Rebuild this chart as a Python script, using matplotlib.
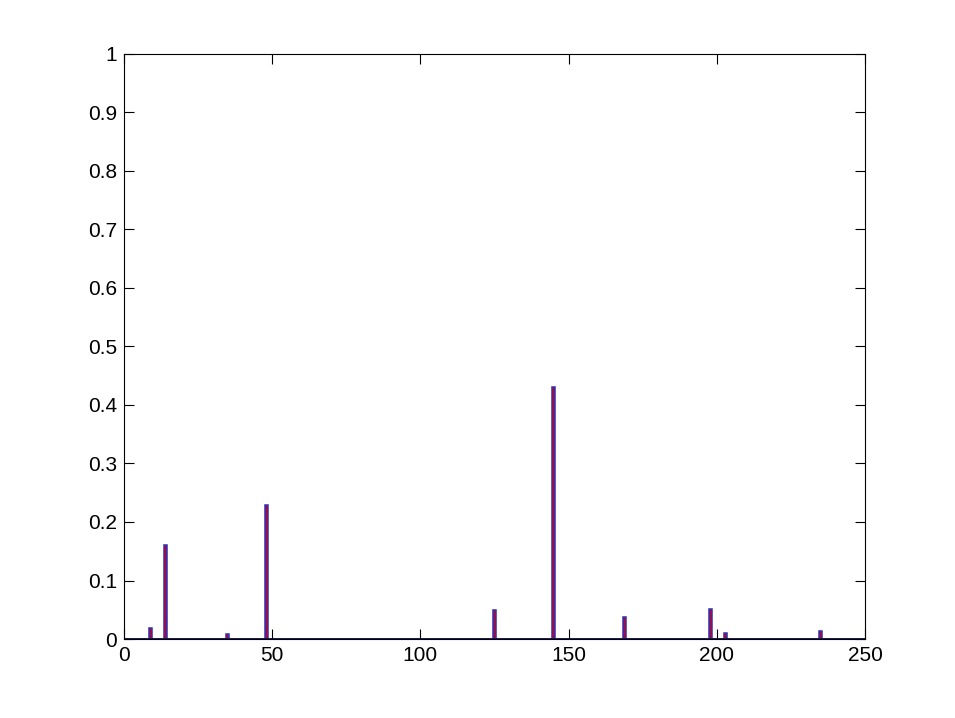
import numpy as np
import matplotlib.pyplot as plt

plt.rcParams['font.family'] = ['Liberation Sans', 'DejaVu Sans']

# bin positions and nonzero values
peak_pos = [9, 14, 35, 48, 125, 145, 169, 198, 203, 235]
peak_val = [0.019, 0.160, 0.009, 0.229, 0.050, 0.431, 0.037, 0.051, 0.011, 0.014]

x = np.arange(1, 251)
y = np.zeros_like(x, dtype=float)
for p, v in zip(peak_pos, peak_val):
    y[p - 1] = v

fig = plt.figure(figsize=(9.55, 7.18), dpi=100)
ax = fig.add_axes([0.1298, 0.110, 0.776, 0.815])

ax.bar(x, y, width=1.0, color='#c8001e', edgecolor='#3030b0', linewidth=1.1)
ax.axhline(0, color='#101050', lw=1.2)

ax.set_xlim(0, 250)
ax.set_ylim(0, 1)
ax.set_xticks(np.arange(0, 251, 50))
ax.set_yticks(np.arange(0, 1.01, 0.1))
ax.set_yticklabels(['0', '0.1', '0.2', '0.3', '0.4', '0.5', '0.6', '0.7', '0.8', '0.9', '1'])
ax.tick_params(direction='in', top=True, right=True, labelsize=15, length=7, width=0.8, pad=5)
for s in ax.spines.values():
    s.set_linewidth(0.8)

fig.savefig('out.png', dpi=100)
